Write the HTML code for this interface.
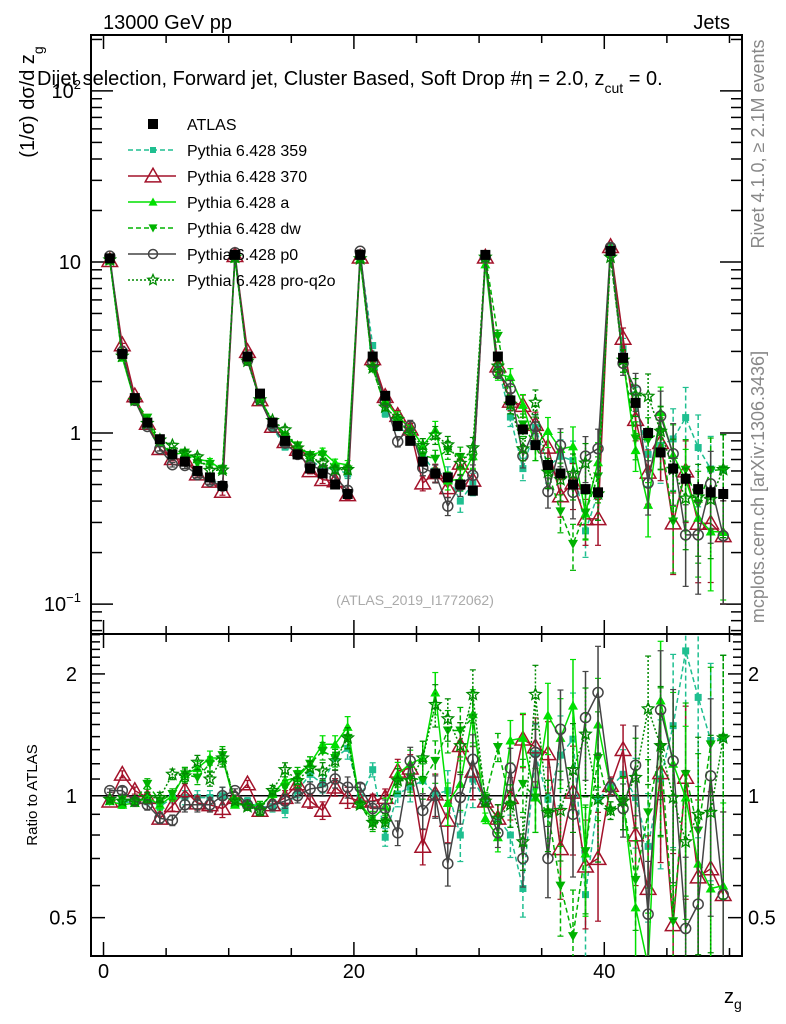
<!DOCTYPE html>
<html><head><meta charset="utf-8">
<style>
html,body{margin:0;padding:0;background:#fff;}
svg{display:block;font-family:"Liberation Sans",Arial,sans-serif;}
</style></head>
<body>
<svg id="chart" width="786" height="1024" viewBox="0 0 786 1024" xmlns="http://www.w3.org/2000/svg">
  <text x="103" y="29" font-size="20">13000 GeV pp</text>
  <text x="730" y="29" font-size="20" text-anchor="end">Jets</text>
  <g id="main"></g>
  <g id="ratio"></g>
  <text x="37" y="85" font-size="20">Dijet selection, Forward jet, Cluster Based, Soft Drop #η = 2.0, z<tspan font-size="14" dy="8">cut</tspan><tspan dy="-8"> = 0.</tspan></text>
  <text transform="translate(34,102) rotate(-90)" font-size="20" text-anchor="middle">(1/σ) dσ/d z<tspan font-size="14" dy="9">g</tspan></text>
  <text transform="translate(37,795) rotate(-90)" font-size="15" text-anchor="middle">Ratio to ATLAS</text>
  <text x="724" y="1003" font-size="20">z<tspan font-size="14" dy="6">g</tspan></text>
  <text transform="translate(764,144) rotate(-90)" font-size="18" fill="#888" text-anchor="middle">Rivet 4.1.0, ≥ 2.1M events</text>
  <text transform="translate(764,487) rotate(-90)" font-size="18" fill="#888" text-anchor="middle">mcplots.cern.ch [arXiv:1306.3436]</text>
  <text x="415" y="605" font-size="14" fill="#aaa" text-anchor="middle">(ATLAS_2019_I1772062)</text>
  <g id="legend"></g>
</svg>
<script>
// ---- data ----
const atlasValues = [10.5,2.9,1.6,1.15,0.92,0.75,0.68,0.6,0.55,0.49,
  11,2.8,1.7,1.15,0.9,0.75,0.62,0.58,0.5,0.44,
  11,2.8,1.65,1.1,0.9,0.68,0.58,0.55,0.5,0.46,
  11,2.8,1.55,1.05,0.85,0.65,0.58,0.5,0.47,0.45,
  11.6,2.75,1.5,1.0,0.77,0.62,0.54,0.47,0.45,0.44];
const atlasRelErr = [0.01,0.01,0.01,0.01,0.01,0.01,0.01,0.01,0.01,0.02,
  0.01,0.01,0.01,0.01,0.01,0.01,0.01,0.02,0.02,0.02,
  0.01,0.01,0.02,0.02,0.02,0.03,0.03,0.03,0.04,0.04,
  0.01,0.02,0.03,0.04,0.05,0.05,0.06,0.06,0.07,0.07,
  0.02,0.04,0.05,0.06,0.07,0.08,0.09,0.1,0.1,0.1];
const mcRelErr = [0.01,0.02,0.02,0.03,0.03,0.03,0.04,0.04,0.04,0.05,
  0.01,0.02,0.03,0.03,0.04,0.04,0.04,0.05,0.05,0.06,
  0.02,0.04,0.05,0.07,0.08,0.1,0.12,0.12,0.14,0.15,
  0.03,0.08,0.12,0.15,0.18,0.2,0.25,0.3,0.3,0.3,
  0.05,0.15,0.25,0.35,0.4,0.5,0.5,0.55,0.55,0.6];
const ratio359 = [0.97,0.96,0.97,0.98,0.94,0.99,0.99,0.99,0.99,1.0,
  0.97,0.97,0.94,0.94,0.92,1.03,1.13,1.07,1.24,1.31,
  0.99,1.16,0.79,1.01,1.05,1.09,1.01,1.03,0.80,1.1,
  0.97,0.88,0.80,0.59,1.27,0.98,1.26,1.38,0.57,0.98,
  1.05,1.13,0.99,0.75,1.1,1.49,2.28,1.75,1.37,1.39];
const ratio370 = [0.97,1.13,1.03,0.99,0.88,0.945,1.03,0.96,0.95,0.93,
  0.99,1.07,0.92,0.95,0.99,1.07,0.97,0.92,1.05,0.99,
  0.97,0.97,0.99,1.15,1.17,0.75,1.01,0.87,1.33,1.15,
  0.97,0.88,0.99,1.38,1.32,1.27,0.74,1.02,0.67,0.70,
  1.06,1.30,0.80,0.59,1.14,0.48,1.11,0.63,0.66,0.57];
const ratioA = [0.97,0.95,0.96,0.99,0.95,1.0,1.13,1.17,1.24,1.24,
  0.95,0.95,0.94,1.01,1.09,1.11,1.2,1.34,1.34,1.48,
  0.95,0.88,0.94,1.13,1.2,1.24,1.80,0.96,1.07,1.59,
  0.88,0.79,1.37,1.39,0.99,1.58,1.39,1.67,0.72,1.50,
  1.05,0.97,0.53,0.38,1.72,1.2,0.99,0.68,0.59,0.60];
const ratioDW = [0.97,0.98,0.97,1.07,0.97,1.01,1.13,1.11,1.2,1.26,
  0.97,0.94,0.94,1.01,1.05,1.13,1.2,1.29,1.24,1.39,
  0.95,0.85,0.86,1.09,1.11,1.09,1.22,1.45,1.45,1.56,
  0.99,1.32,0.95,1.07,0.99,0.91,0.60,0.45,0.73,1.24,
  0.92,0.97,0.62,0.91,1.32,0.49,1.13,0.82,1.34,1.39];
const ratioP0 = [1.03,1.03,0.97,0.95,0.88,0.87,0.95,0.95,0.95,1.0,
  1.03,0.95,0.92,0.95,0.97,1.0,1.04,1.05,1.1,1.05,
  1.05,0.93,0.93,0.81,1.22,0.92,1.0,0.68,0.99,1.23,
  0.97,0.81,1.17,0.70,1.28,0.70,1.46,0.90,1.56,1.80,
  1.05,0.93,1.19,0.51,1.63,1.22,0.47,0.54,1.12,0.57];
const ratioProQ2o = [0.98,0.97,0.97,0.99,0.99,1.13,1.12,1.21,1.1,1.24,
  0.97,0.94,0.92,1.03,1.16,1.09,1.17,1.15,1.22,1.39,
  0.95,0.86,0.86,1.09,1.09,1.24,1.68,1.55,1.33,1.78,
  0.97,0.88,0.95,0.77,1.78,0.91,0.92,1.16,1.42,0.98,
  0.92,0.97,1.11,1.64,1.33,0.99,0.77,0.9,0.91,1.39];
const xTickLabels = ["0","20","40"];
const xTickValues = [0,20,40];
const yMainLabels = ["10^-1","1","10","10^2"];
const ratioTickValues = [0.5,1,2];
const ratioTickLabels = ["0.5","1","2"];

// ---- geometry ----
const L=91,R=742,T=35,MID=634,B=956;
const XMIN=-1,XMAX=51;
const LMIN=-1.175,LMAX=2.327;
const RLMIN=Math.log10(0.402),RLMAX=Math.log10(2.51);
const NS="http://www.w3.org/2000/svg";
function sx(v){return L+(v-XMIN)/(XMAX-XMIN)*(R-L);}
function sy(v){return MID-(Math.log10(v)-LMIN)/(LMAX-LMIN)*(MID-T);}
function ry(v){return B-(Math.log10(v)-RLMIN)/(RLMAX-RLMIN)*(B-MID);}
function mk(tag,attrs,parent){const e=document.createElementNS(NS,tag);for(const k in attrs)e.setAttribute(k,attrs[k]);parent.appendChild(e);return e;}

const mainG=document.getElementById('main');
const ratioG=document.getElementById('ratio');
const svg=document.getElementById('chart');
const defs=mk('defs',{},svg);
const cp1=mk('clipPath',{id:'cm'},defs);mk('rect',{x:L,y:T,width:R-L,height:MID-T},cp1);
const cp2=mk('clipPath',{id:'cr'},defs);mk('rect',{x:L,y:MID,width:R-L,height:B-MID},cp2);

let f1=mk('rect',{x:L,y:T,width:R-L,height:MID-T,fill:'none',stroke:'#000','stroke-width':2},mainG);


let f2=mk('rect',{x:L,y:MID,width:R-L,height:B-MID,fill:'none',stroke:'#000','stroke-width':2},ratioG);



for(let v=0;v<=50;v+=5){
  const major=xTickValues.includes(v);const len=major?14:8;const x=sx(v);
  [[T,1],[MID,1],[MID,-1],[B,-1]].forEach(([y0,d])=>{
    const t=mk('line',{x1:x,x2:x,y1:y0,y2:y0+d*len,stroke:'#000','stroke-width':1.5},svg);
    
    
  });
}
xTickValues.forEach((v,i)=>{
  const t=mk('text',{x:sx(v),y:978,'font-size':20,'text-anchor':'middle'},svg);t.textContent=xTickLabels[i];
  
  
});
for(let d=-2;d<=2;d++){
  for(let m=1;m<=9;m++){
    const v=m*Math.pow(10,d);const y=sy(v);if(y<T||y>MID)continue;
    const len=m===1?22:11;
    [[L,1],[R,-1]].forEach(([x0,s])=>{
      const t=mk('line',{x1:x0,x2:x0+s*len,y1:y,y2:y,stroke:'#000','stroke-width':1.5},mainG);
      
      
    });
  }
}
yMainLabels.forEach(lab=>{
  const parts=lab.split('^');const v=parts.length>1?Math.pow(10,+parts[1]):+lab;
  const t=mk('text',{x:81,y:sy(v)+7,'font-size':20,'text-anchor':'end'},mainG);
  if(parts.length>1){t.textContent=parts[0];const s=mk('tspan',{'font-size':13,dy:-9},t);s.textContent=parts[1].replace('-','−');}
  else t.textContent=lab;
  
  
});
for(let v=0.5;v<=2.55;v=Math.round((v+0.1)*10)/10){
  const y=ry(v);const major=ratioTickValues.includes(v);const len=major?14:9;
  [[L,1],[R,-1]].forEach(([x0,s])=>{
    const t=mk('line',{x1:x0,x2:x0+s*len,y1:y,y2:y,stroke:'#000','stroke-width':1.5},ratioG);
    
    
  });
}
ratioTickValues.forEach((v,i)=>{
  [[77,'end'],[748,'start']].forEach(([x,a])=>{
    const t=mk('text',{x:x,y:ry(v)+7,'font-size':20,'text-anchor':a},ratioG);t.textContent=ratioTickLabels[i];
    
    
  });
});
const one=mk('line',{x1:L,x2:R,y1:ry(1),y2:ry(1),stroke:'#000','stroke-width':1.5},ratioG);



function marker(g,type,x,y,color,size){
  const s=size;let e;
  if(type==='sq')e=mk('rect',{x:x-s,y:y-s,width:2*s,height:2*s,fill:color},g);
  else if(type==='tri')e=mk('polygon',{points:`${x},${y-s*1.2} ${x-s*1.2},${y+s*0.9} ${x+s*1.2},${y+s*0.9}`,fill:'none',stroke:color,'stroke-width':1.5},g);
  else if(type==='ftri')e=mk('polygon',{points:`${x},${y-s} ${x-s},${y+s*0.8} ${x+s},${y+s*0.8}`,fill:color},g);
  else if(type==='dtri')e=mk('polygon',{points:`${x},${y+s} ${x-s},${y-s*0.8} ${x+s},${y-s*0.8}`,fill:color},g);
  else if(type==='circ')e=mk('circle',{cx:x,cy:y,r:s,fill:'none',stroke:color,'stroke-width':1.5},g);
  else if(type==='star'){let p=[];for(let k=0;k<10;k++){const rr=k%2?s*0.45:s;const a=-Math.PI/2+k*Math.PI/5;p.push((x+rr*Math.cos(a)).toFixed(1)+','+(y+rr*Math.sin(a)).toFixed(1));}
    e=mk('polygon',{points:p.join(' '),fill:'none',stroke:color,'stroke-width':1.3},g);}
  return e;
}

const series=[
  {name:'Pythia 6.428 359',key:'pythia-359',ratio:ratio359,color:'#1fbf90',dash:'5,3',m:'sq',ms:3.5},
  {name:'Pythia 6.428 370',key:'pythia-370',ratio:ratio370,color:'#a3122a',dash:'',m:'tri',ms:6.5},
  {name:'Pythia 6.428 a',key:'pythia-a',ratio:ratioA,color:'#00e000',dash:'',m:'ftri',ms:5},
  {name:'Pythia 6.428 dw',key:'pythia-dw',ratio:ratioDW,color:'#00b300',dash:'5,3',m:'dtri',ms:5},
  {name:'Pythia 6.428 p0',key:'pythia-p0',ratio:ratioP0,color:'#444444',dash:'',m:'circ',ms:5},
  {name:'Pythia 6.428 pro-q2o',key:'pythia-pro-q2o',ratio:ratioProQ2o,color:'#008a00',dash:'2,2',m:'star',ms:6}
];

const mc=mk('g',{'clip-path':'url(#cm)'},mainG);
const rc=mk('g',{'clip-path':'url(#cr)'},ratioG);
function clampLog(v){return Math.max(v,1e-3);}
series.forEach(s=>{
  const gm=mk('g',{},mc);
  
  
  const gr=mk('g',{},rc);
  
  
  let pm=[],pr=[];
  s.ratio.forEach((r,i)=>{
    const xc=i+0.5,x=sx(xc),v=atlasValues[i]*r,e=mcRelErr[i];
    pm.push(x.toFixed(1)+','+sy(v).toFixed(1));pr.push(x.toFixed(1)+','+ry(r).toFixed(1));
    const eb=mk('line',{x1:x,x2:x,y1:sy(v*(1+e)),y2:sy(clampLog(v*(1-e))),stroke:s.color,'stroke-width':1.5,'stroke-dasharray':s.dash},gm);
    
    
    const er=mk('line',{x1:x,x2:x,y1:ry(r*(1+e)),y2:ry(clampLog(r*(1-e))),stroke:s.color,'stroke-width':1.5,'stroke-dasharray':s.dash},gr);
    
    
    [[sy(v*(1+e)),gm],[sy(clampLog(v*(1-e))),gm],[ry(r*(1+e)),gr],[ry(clampLog(r*(1-e))),gr]].forEach(([yy,g])=>{
      const c=mk('line',{x1:x-3,x2:x+3,y1:yy,y2:yy,stroke:s.color,'stroke-width':1.2},g);
      
      
    });
  });
  const l1=mk('polyline',{points:pm.join(' '),fill:'none',stroke:s.color,'stroke-width':1.5,'stroke-dasharray':s.dash},gm);
  
  
  const l2=mk('polyline',{points:pr.join(' '),fill:'none',stroke:s.color,'stroke-width':1.5,'stroke-dasharray':s.dash},gr);
  
  
  s.ratio.forEach((r,i)=>{
    const x=sx(i+0.5);
    const a=marker(gm,s.m,x,sy(atlasValues[i]*r),s.color,s.ms);
    
    
    const b=marker(gr,s.m,x,ry(r),s.color,s.ms);
    
    
  });
});
const ga=mk('g',{},mc);


atlasValues.forEach((v,i)=>{
  const x=sx(i+0.5),e=atlasRelErr[i];
  const eb=mk('line',{x1:x,x2:x,y1:sy(v*(1+e)),y2:sy(v*(1-e)),stroke:'#000','stroke-width':1.5},ga);
  
  
  const p=marker(ga,'sq',x,sy(v),'#000',5);
  
  
});

const lg=document.getElementById('legend');
const rowsY=[124,150,176,202,228,254,280];
const le0=mk('g',{},lg);


marker(le0,'sq',153,rowsY[0],'#000',5);
let t0=mk('text',{x:187,y:rowsY[0]+6,'font-size':16},le0);t0.textContent='ATLAS';
series.forEach((s,k)=>{
  const y=rowsY[k+1];
  const g=mk('g',{},lg);
  
  
  mk('line',{x1:128,x2:176,y1:y,y2:y,stroke:s.color,'stroke-width':1.5,'stroke-dasharray':s.dash},g);
  marker(g,s.m,153,y,s.color,s.m==='tri'?6.5:(s.m==='circ'?4.5:s.ms-0.5));
  const t=mk('text',{x:187,y:y+6,'font-size':16},g);t.textContent=s.name;
});
</script>
</body></html>
